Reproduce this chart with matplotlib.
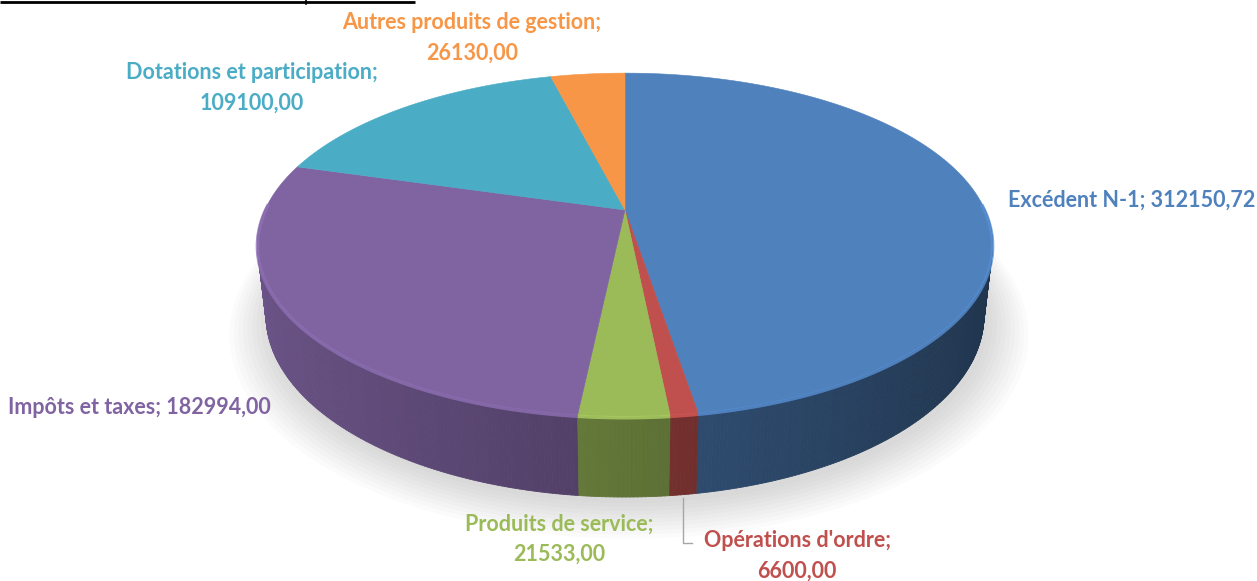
import numpy as np
import matplotlib
matplotlib.use("Agg")
import matplotlib.pyplot as plt
from matplotlib.collections import PolyCollection
from matplotlib.colors import to_rgb

# ── data ──────────────────────────────────────────────────────────────────────
categories = [
    "Excédent N-1",
    "Opérations d'ordre",
    "Produits de service",
    "Impôts et taxes",
    "Dotations et participation",
    "Autres produits de gestion",
]
values = [312150.72, 6600.00, 21533.00, 182994.00, 109100.00, 26130.00]
colors = ["#4f81bd", "#c0504d", "#9bbb59", "#8064a2", "#4bacc6", "#f79646"]

# ── fake 3D camera (pixel space) ──────────────────────────────────────────────
CX, CY = 625.0, 210.0
FOCAL = 1584.0
DIST = 4.40
PHI = np.radians(27.2)
THICK = 0.222


def project(X, Y, Z):
    w = DIST - Y * np.sin(PHI) + Z * np.cos(PHI)
    up = Y * np.cos(PHI) + Z * np.sin(PHI)
    return CX + FOCAL * X / w, CY - FOCAL * up / w


def fmt(v):
    return f"{v:.2f}".replace(".", ",")


def shade(c, k):
    r, g, b = to_rgb(c)
    return (min(r * k, 1), min(g * k, 1), min(b * k, 1))


fig = plt.figure(figsize=(12.57, 5.81), dpi=100)
ax = fig.add_axes([0, 0, 1, 1])
ax.set_xlim(0, 1257)
ax.set_ylim(581, 0)
ax.axis("off")

# table border fragment at the top
ax.plot([0, 415], [2, 2], color="black", lw=2, solid_capstyle="butt")
ax.plot([306, 306], [0, 4], color="black", lw=1.2)

vals = np.array(values)
frac = vals / vals.sum()
edges = 90.0 - 360.0 * np.concatenate([[0], np.cumsum(frac)])

# soft shadow under the pie
for i in range(10):
    r = 1.0 + 0.012 * i
    tt = np.radians(np.linspace(0, 360, 200))
    sx, sy = project(r * np.cos(tt), -THICK, r * np.sin(tt))
    ax.fill(sx + 4, sy + 6 + i * 0.6, color="#808080", alpha=0.03, lw=0, zorder=1)

# side strips (front half)
strips, strip_cols, depth = [], [], []
for i, c in enumerate(colors):
    t0, t1 = edges[i], edges[i + 1]
    n = max(int((t0 - t1) / 0.5), 2)
    ts = np.radians(np.linspace(t0, t1, n + 1))
    for a, b in zip(ts[:-1], ts[1:]):
        m = 0.5 * (a + b)
        if np.sin(m) > 0.02:
            continue
        xa, ya = project(np.cos(a), 0, np.sin(a))
        xb, yb = project(np.cos(b), 0, np.sin(b))
        xc, yc = project(np.cos(b), -THICK, np.sin(b))
        xd, yd = project(np.cos(a), -THICK, np.sin(a))
        strips.append([(xa, ya), (xb, yb), (xc, yc), (xd, yd)])
        strip_cols.append(shade(c, 0.62 - 0.22 * np.cos(m)))
        depth.append(np.sin(m))
order = np.argsort(depth)[::-1]
pc = PolyCollection([strips[k] for k in order],
                    facecolors=[strip_cols[k] for k in order],
                    edgecolors=[strip_cols[k] for k in order],
                    linewidths=0.6, zorder=2)
ax.add_collection(pc)

# top faces
for i, c in enumerate(colors):
    ts = np.radians(np.linspace(edges[i], edges[i + 1], 200))
    px, py = project(np.cos(ts), 0, np.sin(ts))
    x0, y0 = project(0.0, 0.0, 0.0)
    ax.fill(np.r_[x0, px], np.r_[y0, py], color=c, lw=0.4, ec=c, zorder=3)
    # bevel highlight along the front rim
    front = np.sin(ts) < 0.05
    if front.any():
        ax.plot(px[front], py[front] + 1.5, color=shade(c, 1.12), lw=2.5,
                alpha=0.8, zorder=4, solid_capstyle="butt")

# ── labels ────────────────────────────────────────────────────────────────────
font = dict(family="Lato", weight="bold", fontsize=15.5)
ax.text(1008, 200, f"{categories[0]}; {fmt(values[0])}", color=colors[0],
        ha="left", va="center", **font)
ax.text(797, 556, f"{categories[1]};\n{fmt(values[1])}", color=colors[1],
        ha="center", va="center", linespacing=1.53, **font)
ax.text(559, 539, f"{categories[2]};\n{fmt(values[2])}", color=colors[2],
        ha="center", va="center", linespacing=1.53, **font)
ax.text(8, 408, f"{categories[3]}; {fmt(values[3])}", color=colors[3],
        ha="left", va="center", **font)
ax.text(252, 88, f"{categories[4]};\n{fmt(values[4])}", color=colors[4],
        ha="center", va="center", linespacing=1.53, **font)
ax.text(472, 38, f"{categories[5]};\n{fmt(values[5])}", color=colors[5],
        ha="center", va="center", linespacing=1.53, **font)

# leader line for the small slice
ax.plot([683, 683, 692], [498, 543, 543], color="#a6a6a6", lw=1, zorder=5)

fig.savefig("out.png", dpi=100)
